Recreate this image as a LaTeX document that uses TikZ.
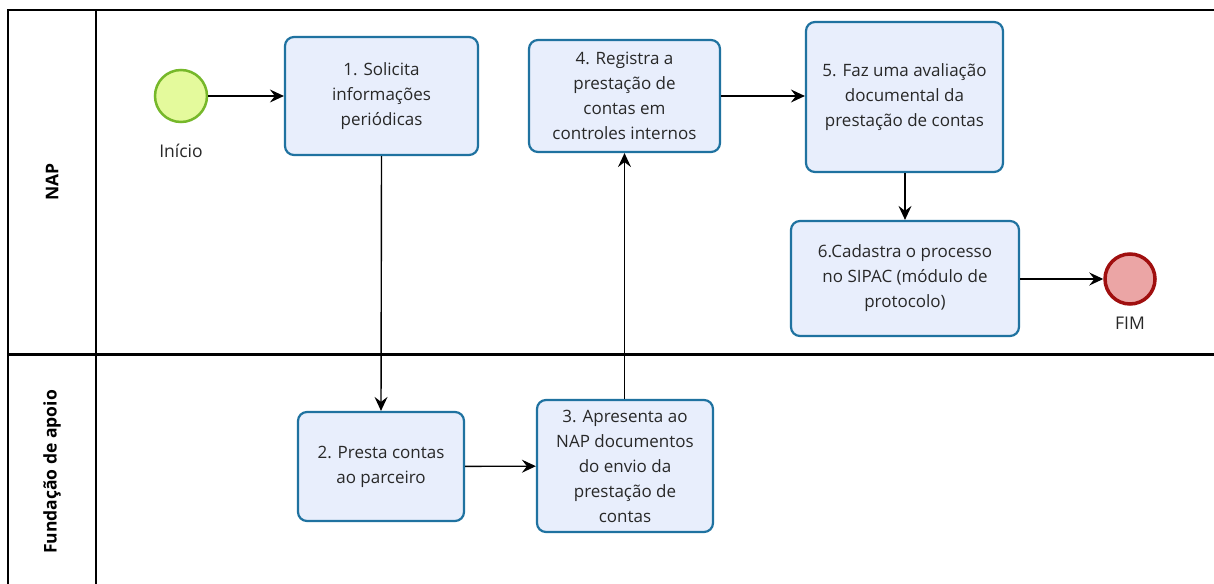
\documentclass[tikz,border=0pt]{standalone}
\usepackage{fontspec}
\setmainfont{Open Sans}
\usetikzlibrary{arrows.meta}
\definecolor{taskfill}{HTML}{E8EEFC}
\definecolor{taskdraw}{HTML}{1F72A0}
\definecolor{startfill}{HTML}{E4FA9C}
\definecolor{startdraw}{HTML}{76B82A}
\definecolor{endfill}{HTML}{EBA5A5}
\definecolor{enddraw}{HTML}{A00F0F}
\definecolor{txt}{HTML}{282828}
\tikzset{
  task/.style={draw=taskdraw, fill=taskfill, line width=2.2pt, rounded corners=9pt,
    align=center, font=\fontsize{17}{25}\selectfont, text=txt, inner sep=0pt},
  startev/.style={circle, draw=startdraw, fill=startfill, line width=2.5pt, minimum size=52pt, inner sep=0pt},
  endev/.style={circle, draw=enddraw, fill=endfill, line width=3.5pt, minimum size=50pt, inner sep=0pt},
  lbl/.style={font=\fontsize{17.5}{20}\selectfont, text=txt},
  lanelbl/.style={font=\bfseries\fontsize{17.5}{20}\selectfont, rotate=90},
  flow/.style={-{Stealth[length=14pt,width=13pt,inset=5pt]}, line width=1.4pt, black}
}
\begin{document}
\begin{tikzpicture}[x=1pt,y=-1pt]
\useasboundingbox (0,0) rectangle (1214,583);
\fill[white] (0,0) rectangle (1214,583);
% pool and lanes
\draw[line width=1.6pt] (1216,10) -- (8,10) -- (8,585);
\draw[line width=1.6pt] (96,10) -- (96,585);
\draw[line width=3pt] (8,354) -- (1216,354);
\node[lanelbl] (lnap) at (52,182) {NAP};
\node[lanelbl] (lfund) at (52,472) {Fundação de apoio};
% nodes
\node[startev] (start) at (181,96) {};
\node[lbl, anchor=north] (startl) at (181,141) {Início};
\node[task, minimum width=193pt, minimum height=118pt] (t1) at (381.5,96) {1. Solicita\\informações\\periódicas};
\node[task, minimum width=191pt, minimum height=112pt] (t4) at (624.5,96) {4. Registra a\\prestação de\\contas em\\controles internos};
\node[task, minimum width=197pt, minimum height=150pt] (t5) at (904.5,97) {5. Faz uma avaliação\\documental da\\prestação de contas};
\node[task, minimum width=228pt, minimum height=115pt] (t6) at (905,278.5) {6.Cadastra o processo\\no SIPAC (módulo de\\protocolo)};
\node[endev] (fim) at (1130,279) {};
\node[lbl, anchor=north] (fiml) at (1130,313) {FIM};
\node[task, minimum width=166pt, minimum height=109pt] (t2) at (381,466.5) {2. Presta contas\\ao parceiro};
\node[task, minimum width=176pt, minimum height=132pt] (t3) at (625,466) {3. Apresenta ao\\NAP documentos\\do envio da\\prestação de\\contas};
% flows
\draw[flow] (start) -- (t1);
\draw[flow] (t1.south) -- (t2.north);
\draw[flow] (t2) -- (t3);
\draw[flow] (t3.north -| t4.south) -- (t4.south);
\draw[flow] (t4.east) -- (t4.east -| t5.west);
\draw[flow] (t5.south -| t6.north) -- (t6.north);
\draw[flow] (t6.east |- fim) -- (fim.west);
\end{tikzpicture}
\end{document}
